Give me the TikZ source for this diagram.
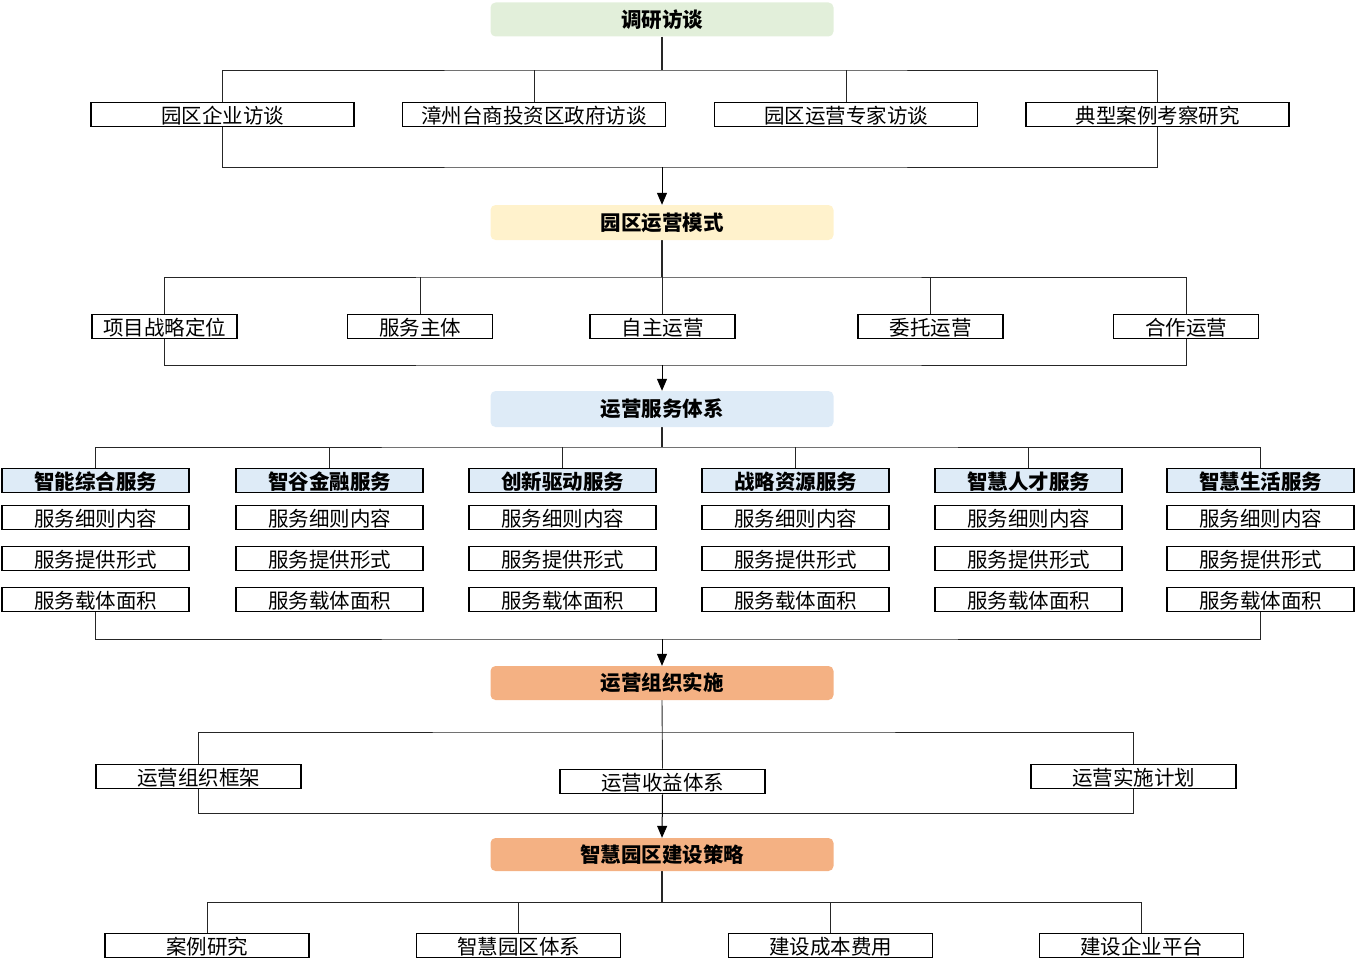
\documentclass[tikz,border=0pt]{standalone}
\usepackage{fontspec}
\setmainfont{Noto Sans CJK SC}
\usetikzlibrary{arrows.meta, positioning, backgrounds}

\definecolor{surveybg}{HTML}{E2EFDA}
\definecolor{modebg}{HTML}{FFF2CC}
\definecolor{servbg}{HTML}{DEEBF7}
\definecolor{orgbg}{HTML}{F4B183}

\begin{document}
\begin{tikzpicture}[
    x=1pt, y=-1pt,
    stage/.style={
        rectangle, rounded corners=5pt, inner sep=0pt,
        minimum width=343pt, minimum height=34pt,
        font=\fontsize{20.5}{22}\selectfont\bfseries
    },
    item/.style={
        draw, line width=1.6pt, rectangle, fill=white, inner sep=0pt,
        minimum height=24pt, text height=20.5pt, text depth=2.5pt,
        font=\fontsize{20.5}{22}\selectfont
    },
    head/.style={item, fill=servbg, font=\fontsize{20.5}{22}\selectfont\bfseries},
    link/.style={line width=0.9pt, black!85},
    arr/.style={line width=1pt, -{Triangle[length=12pt, width=10pt]}}
]
\useasboundingbox (0,0) rectangle (1356,971);

% stage 1
\node[stage, fill=surveybg] (survey) at (662,19.5) {调研访谈};
\node[item, minimum width=263pt] (sv1) at (222.5,114.5) {园区企业访谈};
\node[item, minimum width=263pt] (sv2) at (534,114.5)   {漳州台商投资区政府访谈};
\node[item, minimum width=263pt] (sv3) at (846,114.5)   {园区运营专家访谈};
\node[item, minimum width=263pt] (sv4) at (1157.5,114.5){典型案例考察研究};
\coordinate (survey-bar)  at (662,70);
\coordinate (survey-join) at (662,167);

% stage 2
\node[stage, fill=modebg, minimum height=35pt] (mode) at (662,222.5) {园区运营模式};
\node[item, minimum width=145pt] (md1) at (164.5,326.5) {项目战略定位};
\node[item, minimum width=145pt] (md2) at (420,326.5)   {服务主体};
\node[item, minimum width=145pt] (md3) at (662.5,326.5) {自主运营};
\node[item, minimum width=145pt] (md4) at (930.5,326.5) {委托运营};
\node[item, minimum width=145pt] (md5) at (1186,326.5)  {合作运营};
\coordinate (mode-bar)  at (662,277);
\coordinate (mode-join) at (662,365);

% stage 3
\node[stage, fill=servbg, minimum height=36pt] (serv) at (662,409) {运营服务体系};
\foreach \i/\x/\t in {1/95.5/智能综合服务, 2/329.5/智谷金融服务, 3/562.5/创新驱动服务,
                      4/795.5/战略资源服务, 5/1028.5/智慧人才服务, 6/1260.5/智慧生活服务} {
    \node[head, minimum width=187pt] (sh\i) at (\x,480.5) {\t};
    \node[item, minimum width=187pt] (sa\i) at (\x,517.5) {服务细则内容};
    \node[item, minimum width=187pt] (sb\i) at (\x,558.5) {服务提供形式};
    \node[item, minimum width=187pt] (sc\i) at (\x,599.5) {服务载体面积};
}
\coordinate (serv-bar)  at (662,447);
\coordinate (serv-join) at (662,639);

% stage 4
\node[stage, fill=orgbg] (org) at (662,683) {运营组织实施};
\node[item, minimum width=205pt] (og1) at (198.5,776.5)  {运营组织框架};
\node[item, minimum width=205pt] (og2) at (662.5,781.5)  {运营收益体系};
\node[item, minimum width=205pt] (og3) at (1133.5,776.5) {运营实施计划};
\coordinate (org-bar)  at (662,732);
\coordinate (org-join) at (662,813);

% stage 5
\node[stage, fill=orgbg, minimum height=33pt] (plan) at (662,854.5) {智慧园区建设策略};
\node[item, minimum width=204pt] (pl1) at (207,945.5)   {案例研究};
\node[item, minimum width=204pt] (pl2) at (518.5,945.5) {智慧园区体系};
\node[item, minimum width=204pt] (pl3) at (830.5,945.5) {建设成本费用};
\node[item, minimum width=204pt] (pl4) at (1141.5,945.5){建设企业平台};
\coordinate (plan-bar) at (662,902);

\begin{scope}[on background layer]
    \draw[link, line width=1.3pt] (survey.south) -- (survey-bar);
    \draw[link] (sv1.north) |- (survey-bar) -| (sv4.north);
    \draw[link] (sv2.north) -- (sv2.north |- survey-bar);
    \draw[link] (sv3.north) -- (sv3.north |- survey-bar);
    \draw[link] (sv1.south) |- (survey-join) -| (sv4.south);
    \draw[arr] (survey-join) -- (mode.north);

    \draw[link, line width=1.3pt] (mode.south) -- (mode-bar);
    \draw[link] (md1.north) |- (mode-bar) -| (md5.north);
    \draw[link] (md2.north) -- (md2.north |- mode-bar);
    \draw[link] (md3.north) -- (md3.north |- mode-bar);
    \draw[link] (md4.north) -- (md4.north |- mode-bar);
    \draw[link] (md1.south) |- (mode-join) -| (md5.south);
    \draw[arr] (mode-join) -- (serv.north);

    \draw[link, line width=1.3pt] (serv.south) -- (serv-bar);
    \draw[link] (sh1.north) |- (serv-bar) -| (sh6.north);
    \foreach \i in {2,...,5}
        \draw[link] (sh\i.north) -- (sh\i.north |- serv-bar);
    \draw[link] (sc1.south) |- (serv-join) -| (sc6.south);
    \draw[arr] (serv-join) -- (org.north);

    \draw[link] (org.south) -- (og2.north);
    \draw[link] (og1.north) |- (org-bar) -| (og3.north);
    \draw[link] (og1.south) |- (org-join) -| (og3.south);
    \draw[arr] (og2.south) -- (plan.north);

    \draw[link, line width=1.3pt] (plan.south) -- (plan-bar);
    \draw[link] (pl1.north) |- (plan-bar) -| (pl4.north);
    \draw[link] (pl2.north) -- (pl2.north |- plan-bar);
    \draw[link] (pl3.north) -- (pl3.north |- plan-bar);
\end{scope}
\end{tikzpicture}
\end{document}
